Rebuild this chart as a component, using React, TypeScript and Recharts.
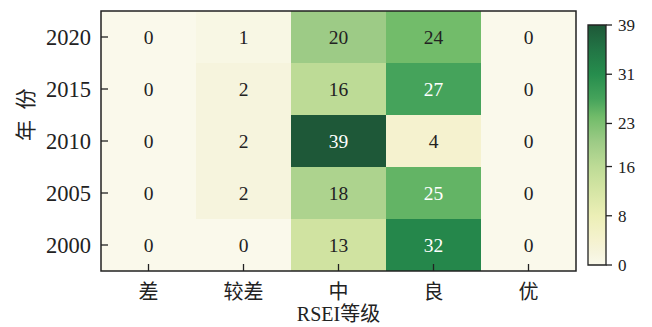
import { Bar, BarChart, Cell, LabelList, ReferenceArea, XAxis, YAxis } from 'recharts'

const grades = ['差', '较差', '中', '良', '优']
const years = ['2000', '2005', '2010', '2015', '2020']
const values2000 = [0, 0, 13, 32, 0]
const values2005 = [0, 2, 18, 25, 0]
const values2010 = [0, 2, 39, 4, 0]
const values2015 = [0, 2, 16, 27, 0]
const values2020 = [0, 1, 20, 24, 0]
const valuesByYear = [values2000, values2005, values2010, values2015, values2020]
const colorTicks = [0, 8, 16, 23, 31, 39]
const colorMax = 39

// YlGn-like colour ramp
const RAMP: Array<[number, string]> = [
  [0, '#faf9eb'],
  [2, '#f6f4dd'],
  [4, '#f5f2cf'],
  [8, '#ecefb6'],
  [13, '#d0e3a1'],
  [16, '#bddb96'],
  [20, '#9dcb86'],
  [24, '#72bc6a'],
  [27, '#45a35b'],
  [31, '#268d4d'],
  [35, '#227545'],
  [39, '#1e5838'],
]

const hex = (c: string) => [1, 3, 5].map((i) => parseInt(c.slice(i, i + 2), 16))

function rampColor(v: number) {
  for (let i = 1; i < RAMP.length; i++) {
    const [v1, c1] = RAMP[i]
    const [v0, c0] = RAMP[i - 1]
    if (v <= v1) {
      const t = (v - v0) / (v1 - v0)
      const a = hex(c0)
      const b = hex(c1)
      const m = a.map((x, k) => Math.round(x + (b[k] - x) * t))
      return `rgb(${m[0]},${m[1]},${m[2]})`
    }
  }
  return RAMP[RAMP.length - 1][1]
}

const FONT = "'Liberation Serif', 'Times New Roman', 'Noto Sans CJK SC', serif"
const INK = '#222'

const data = grades.map((g) => {
  const row: Record<string, string | number> = { grade: g }
  years.forEach((y) => {
    row[`y${y}`] = 1
  })
  return row
})

function XTick({ x = 0, y = 0, payload }: any) {
  return (
    <g>
      <line x1={x} x2={x} y1={y} y2={y - 7} stroke={INK} strokeWidth={1.3} />
      <text x={x} y={y + 28} textAnchor="middle" fontFamily={FONT} fontSize={20} fill={INK}>
        {payload.value}
      </text>
    </g>
  )
}

function YTick({ x = 0, y = 0, payload, index = 0 }: any) {
  return (
    <g>
      <line x1={x} x2={x + 7} y1={y} y2={y} stroke={INK} strokeWidth={1.3} />
      <text x={x - 10} y={y + 7.5} textAnchor="end" fontFamily={FONT} fontSize={22.5} fill={INK}>
        {years[index] ?? payload.value}
      </text>
    </g>
  )
}

export default function App() {
  return (
    <div style={{ position: 'absolute', left: 0, top: 0, width: 652, height: 327, background: '#fff' }}>
      <div style={{ position: 'absolute', left: 0, top: 0 }}>
        <BarChart
          width={652}
          height={327}
          data={data}
          barCategoryGap={0}
          margin={{ top: 11, right: 76, bottom: 0, left: 0 }}
        >
          <XAxis
            dataKey="grade"
            height={56}
            tickSize={0}
            tickMargin={0}
            tickLine={false}
            axisLine={false}
            tick={<XTick />}
            interval={0}
            label={{
              value: 'RSEI等级',
              position: 'insideBottom',
              offset: 6,
              fontFamily: FONT,
              fontSize: 20,
              fill: INK,
            }}
          />
          <YAxis
            type="number"
            domain={[0, 5]}
            ticks={[0.5, 1.5, 2.5, 3.5, 4.5]}
            width={101}
            tickSize={0}
            tickMargin={0}
            tickLine={false}
            axisLine={false}
            tick={<YTick />}
            interval={0}
            allowDataOverflow
            label={{
              value: '年\u00a0\u00a0份',
              angle: -90,
              position: 'insideLeft',
              offset: 26,
              fontFamily: FONT,
              fontSize: 21,
              fill: INK,
            }}
          />
          {years.map((year, i) => (
            <Bar key={year} dataKey={`y${year}`} stackId="heat" isAnimationActive={false}>
              {grades.map((g, j) => (
                <Cell key={g} fill={rampColor(valuesByYear[i][j])} />
              ))}
              <LabelList
                content={(props: any) => {
                  const { x = 0, y = 0, width = 0, height = 0, index = 0 } = props
                  const v = valuesByYear[i][index]
                  return (
                    <text
                      x={Number(x) + Number(width) / 2}
                      y={Number(y) + Number(height) / 2 + 6.5}
                      textAnchor="middle"
                      fontFamily={FONT}
                      fontSize={19.5}
                      fill={v > 24 ? '#fff' : INK}
                    >
                      {v}
                    </text>
                  )
                }}
              />
            </Bar>
          ))}
          <ReferenceArea
            x1={grades[0]}
            x2={grades[grades.length - 1]}
            y1={0}
            y2={5}
            fill="none"
            fillOpacity={0}
            stroke={INK}
            strokeWidth={1.5}
            ifOverflow="visible"
            zIndex={1000}
          />
        </BarChart>
      </div>
      <div style={{ position: 'absolute', left: 0, top: 0 }}>
        <BarChart
          width={652}
          height={327}
          data={[{ name: 'bar', v: colorMax }]}
          barCategoryGap={0}
          margin={{ top: 25, right: 6, bottom: 62, left: 588 }}
        >
          <defs>
            <linearGradient id="cbar" x1="0" y1="1" x2="0" y2="0">
              {RAMP.map(([v, c]) => (
                <stop key={v} offset={`${(v / colorMax) * 100}%`} stopColor={c} />
              ))}
            </linearGradient>
          </defs>
          <XAxis dataKey="name" hide />
          <YAxis
            orientation="right"
            type="number"
            domain={[0, colorMax]}
            ticks={colorTicks}
            interval={0}
            width={40}
            axisLine={false}
            tickSize={6}
            tickMargin={6}
            tickLine={{ stroke: INK, strokeWidth: 1.3 }}
            tick={{ fontFamily: FONT, fontSize: 17, fill: INK, textAnchor: 'start' }}
          />
          <Bar dataKey="v" fill="url(#cbar)" stroke={INK} strokeWidth={1.3} isAnimationActive={false} />
        </BarChart>
      </div>
    </div>
  )
}
